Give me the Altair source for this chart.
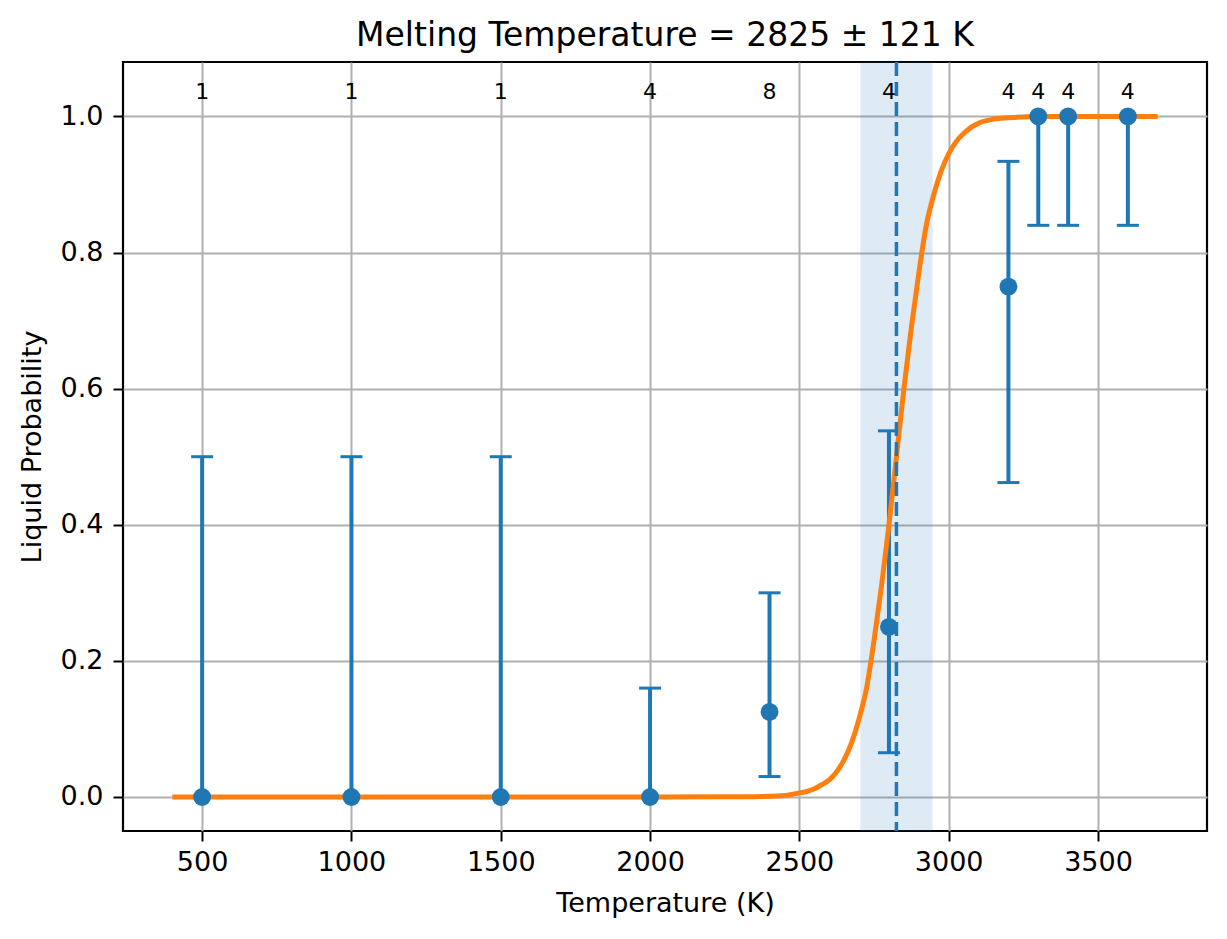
import altair as alt
import pandas as pd

# ---- data ----
temps = [500, 1000, 1500, 2000, 2400, 2800, 3200, 3300, 3400, 3600]
prob = [0.0, 0.0, 0.0, 0.0, 0.125, 0.25, 0.75, 1.0, 1.0, 1.0]
err_lo = [0.0, 0.0, 0.0, 0.0, 0.03, 0.065, 0.462, 0.84, 0.84, 0.84]
err_hi = [0.5, 0.5, 0.5, 0.16, 0.30, 0.538, 0.934, 1.0, 1.0, 1.0]
counts = ["1", "1", "1", "4", "8", "4", "4", "4", "4", "4"]

curve_t = [400, 1000, 2000, 2300, 2400, 2450, 2500, 2525, 2550, 2575, 2600, 2625, 2650,
           2675, 2700, 2725, 2750, 2775, 2800, 2825, 2850, 2875, 2900, 2925, 2950,
           2975, 3000, 3025, 3050, 3075, 3100, 3150, 3200, 3300, 3500, 3700]
curve_p = [0.0, 0.0, 0.0, 0.0002, 0.001, 0.002, 0.006, 0.008, 0.012, 0.018, 0.025, 0.037,
           0.055, 0.08, 0.115, 0.16, 0.23, 0.31, 0.40, 0.50, 0.60, 0.69, 0.77, 0.84,
           0.885, 0.92, 0.945, 0.963, 0.975, 0.984, 0.99, 0.996, 0.998, 1.0, 1.0, 1.0]

melt_t = 2825
melt_err = 121

x_ticks = [500, 1000, 1500, 2000, 2500, 3000, 3500]
y_ticks = [0.0, 0.2, 0.4, 0.6, 0.8, 1.0]

BLUE = "#1f77b4"
ORANGE = "#ff7f0e"
FONT = "DejaVu Sans"
W, H = 1084, 769

pts = pd.DataFrame({"T": temps, "P": prob, "lo": err_lo, "hi": err_hi, "n": counts,
                    "ly": [1.026] * len(temps)})
curve = pd.DataFrame({"T": curve_t, "P": curve_p})
melt = pd.DataFrame({"T": [melt_t], "lo": [melt_t - melt_err], "hi": [melt_t + melt_err]})

xs = alt.Scale(domain=[235, 3865], nice=False, zero=False)
ys = alt.Scale(domain=[-0.05, 1.08], nice=False, zero=False)

xax = alt.Axis(values=x_ticks, format="d", title="Temperature (K)", grid=True,
               gridColor="#b0b0b0", gridWidth=2, domain=False, tickColor="black",
               tickWidth=2, tickSize=10, labelFont=FONT, labelFontSize=27,
               labelColor="black", labelPadding=8, titleFont=FONT, titleFontSize=27,
               titleFontWeight="normal", titleColor="black", titlePadding=15,
               labelFlush=False)
yax = alt.Axis(values=y_ticks, format=".1f", title="Liquid Probability", grid=True,
               gridColor="#b0b0b0", gridWidth=2, domain=False, tickColor="black",
               tickWidth=2, tickSize=10, labelFont=FONT, labelFontSize=27,
               labelColor="black", labelPadding=10, titleFont=FONT, titleFontSize=27,
               titleFontWeight="normal", titleColor="black", titlePadding=14,
               labelFlush=False)

band = alt.Chart(melt).mark_rect(color=BLUE, opacity=0.15).encode(
    x=alt.X("lo:Q", scale=xs, axis=xax),
    x2="hi:Q",
    y=alt.value(0),
    y2=alt.value(H),
)

bars = alt.Chart(pts).mark_rule(color=BLUE, strokeWidth=4).encode(
    x=alt.X("T:Q", scale=xs),
    y=alt.Y("lo:Q", scale=ys, axis=yax),
    y2="hi:Q",
)
cap_lo = alt.Chart(pts).mark_tick(color=BLUE, opacity=1, orient="horizontal", size=22, thickness=3).encode(
    x=alt.X("T:Q", scale=xs), y=alt.Y("lo:Q", scale=ys))
cap_hi = alt.Chart(pts).mark_tick(color=BLUE, opacity=1, orient="horizontal", size=22, thickness=3).encode(
    x=alt.X("T:Q", scale=xs), y=alt.Y("hi:Q", scale=ys))

line = alt.Chart(curve).mark_line(color=ORANGE, strokeWidth=5, interpolate="monotone").encode(
    x=alt.X("T:Q", scale=xs), y=alt.Y("P:Q", scale=ys))

vline = alt.Chart(melt).mark_rule(color=BLUE, strokeWidth=3.5, strokeDash=[14, 6]).encode(
    x=alt.X("T:Q", scale=xs))

dots = alt.Chart(pts).mark_circle(color=BLUE, opacity=1, size=320).encode(
    x=alt.X("T:Q", scale=xs), y=alt.Y("P:Q", scale=ys))

labels = alt.Chart(pts).mark_text(font=FONT, fontSize=22, color="black",
                                  baseline="alphabetic", align="center").encode(
    x=alt.X("T:Q", scale=xs), y=alt.Y("ly:Q", scale=ys), text="n:N")

chart = alt.layer(band, bars, cap_lo, cap_hi, line, vline, dots, labels).properties(
    width=W, height=H,
    title=alt.Title("Melting Temperature = 2825 ± 121 K", font=FONT, fontSize=33,
                    fontWeight="normal", color="black", offset=7),
    autosize=alt.AutoSizeParams(type="none"),
    padding={"left": 115, "top": 54, "right": 10, "bottom": 90},
    background="white",
).configure_view(stroke="black", strokeWidth=2.2)

chart.save("out.html", embed_options={"renderer": "svg", "actions": False})
